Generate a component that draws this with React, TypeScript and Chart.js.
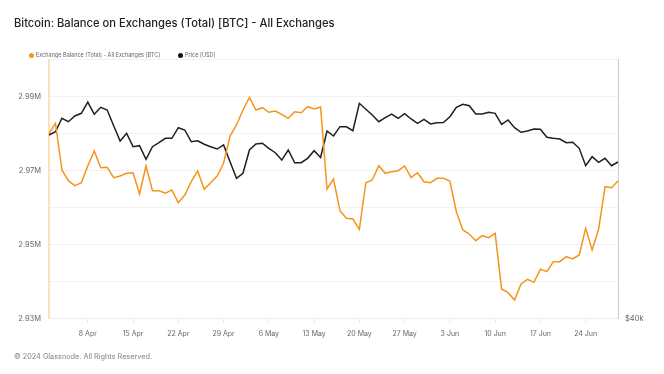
import React, { useEffect, useRef } from "react";
import { Chart, registerables } from "chart.js";

Chart.register(...registerables);

const DATES = [
  "2 Apr","3 Apr","4 Apr","5 Apr","6 Apr","7 Apr","8 Apr","9 Apr","10 Apr","11 Apr","12 Apr","13 Apr","14 Apr","15 Apr","16 Apr","17 Apr","18 Apr","19 Apr","20 Apr","21 Apr","22 Apr","23 Apr","24 Apr","25 Apr","26 Apr","27 Apr","28 Apr","29 Apr","30 Apr",
  "1 May","2 May","3 May","4 May","5 May","6 May","7 May","8 May","9 May","10 May","11 May","12 May","13 May","14 May","15 May","16 May","17 May","18 May","19 May","20 May","21 May","22 May","23 May","24 May","25 May","26 May","27 May","28 May","29 May","30 May","31 May",
  "1 Jun","2 Jun","3 Jun","4 Jun","5 Jun","6 Jun","7 Jun","8 Jun","9 Jun","10 Jun","11 Jun","12 Jun","13 Jun","14 Jun","15 Jun","16 Jun","17 Jun","18 Jun","19 Jun","20 Jun","21 Jun","22 Jun","23 Jun","24 Jun","25 Jun","26 Jun","27 Jun","28 Jun","29 Jun",
];

const X_TICKS = ["8 Apr","15 Apr","22 Apr","29 Apr","6 May","13 May","20 May","27 May","3 Jun","10 Jun","17 Jun","24 Jun"];

const BALANCE = [
  2980050, 2982760, 2970140, 2967240, 2965890, 2966700, 2971300, 2975270, 2970760, 2970870,
  2968050, 2968510, 2969240, 2969400, 2963650, 2971220, 2964540, 2964500, 2963840, 2964730,
  2961300, 2963380, 2966970, 2969870, 2964920, 2966700, 2968510, 2971950, 2979320, 2982300,
  2986350, 2989780, 2986350, 2986970, 2985730, 2986080, 2985190, 2984110, 2985890, 2985620,
  2987240, 2986620, 2987160, 2965000, 2967700, 2959140, 2957080, 2956890, 2954110, 2966700,
  2967430, 2971300, 2969240, 2969680, 2969950, 2971220, 2968050, 2969400, 2966970, 2966700,
  2967890, 2967890, 2967160, 2958870, 2953920, 2952840, 2951030, 2952380, 2951840, 2953030,
  2937970, 2936970, 2935000, 2939320, 2940590, 2939780, 2943300, 2942650, 2945350, 2945350,
  2946700, 2946080, 2947160, 2954380, 2948510, 2954110, 2965620, 2965350, 2967160,
];

const PRICE = [
  65850, 66310, 68200, 67720, 68520, 68900, 70490, 68760, 69750, 69370,
  67160, 65000, 66090, 64200, 64340, 62420, 64200, 64760, 65380, 65380,
  66870, 66550, 64900, 65040, 64540, 64200, 63870, 64440, 62090, 59750,
  60450, 63730, 64580, 64680, 63970, 63350, 62320, 63730, 61940, 61940,
  62560, 63630, 62680, 66410, 65700, 67020, 67000, 66450, 70310, 69470,
  68660, 67720, 68280, 68800, 68200, 68850, 68100, 67490, 68060, 67400,
  67580, 67600, 68420, 69750, 70170, 69970, 68800, 68800, 69040, 68900,
  67350, 67960, 66870, 66230, 66410, 66690, 66650, 65520, 65380, 65280,
  64760, 64820, 63970, 61520, 62790, 62000, 62560, 61520, 62040,
];

const BAL_TICKS = [2930000, 2940000, 2950000, 2960000, 2970000, 2980000, 2990000, 3000000];
const BAL_LABELED = [2930000, 2950000, 2970000, 2990000];
const PRICE_TICKS = [40000];

const FONT = "Inter, 'Noto Sans', sans-serif";

export default function App() {
  const ref = useRef<HTMLCanvasElement | null>(null);

  useEffect(() => {
    if (!ref.current) return;
    const chart = new Chart(ref.current, {
      type: "line",
      data: {
        labels: DATES,
        datasets: [
          {
            label: "Exchange Balance (Total) - All Exchanges [BTC]",
            data: BALANCE,
            borderColor: "#f7931a",
            backgroundColor: "#f7931a",
            borderWidth: 1.5,
            pointRadius: 0,
            tension: 0,
            yAxisID: "y",
          },
          {
            label: "Price [USD]",
            data: PRICE,
            borderColor: "#1f1f1f",
            backgroundColor: "#1f1f1f",
            borderWidth: 1.5,
            pointRadius: 0,
            tension: 0,
            yAxisID: "y1",
          },
        ],
      },
      options: {
        animation: false,
        responsive: false,
        maintainAspectRatio: false,
        layout: { padding: { left: 0, right: 0, top: 59.5, bottom: 0 } },
        plugins: { legend: { display: false }, tooltip: { enabled: false }, title: { display: false } },
        scales: {
          x: {
            type: "category",
            afterBuildTicks: (scale: any) => {
              scale.ticks = scale.ticks.filter((t: any) => X_TICKS.includes(DATES[t.value]));
            },
            afterFit: (scale: any) => {
              scale.height = 55.5;
            },
            grid: { drawOnChartArea: false, drawTicks: true, tickLength: 4, color: "#e8e8e8" },
            border: { color: "#eeeeee", width: 1 },
            ticks: {
              autoSkip: false,
              maxRotation: 0,
              padding: 7,
              color: "#666666",
              font: { family: FONT, size: 7 },
              callback: function (this: any, value: any) {
                return DATES[value];
              },
            },
          },
          y: {
            position: "left",
            min: 2930000,
            max: 3000000,
            afterBuildTicks: (scale: any) => {
              scale.ticks = BAL_TICKS.map((v) => ({ value: v }));
            },
            afterFit: (scale: any) => {
              scale.width = 49;
            },
            grid: { color: "#f1f1f1", drawTicks: false, lineWidth: 1 },
            border: { color: "#fde0bd", width: 2 },
            ticks: {
              padding: 8,
              color: "#666666",
              font: { family: FONT, size: 7.5 },
              callback: (v: any) => (BAL_LABELED.includes(v) ? (v / 1e6).toFixed(2) + "M" : ""),
            },
          },
          y1: {
            position: "right",
            min: 40000,
            max: 76480,
            afterBuildTicks: (scale: any) => {
              scale.ticks = PRICE_TICKS.map((v) => ({ value: v }));
            },
            afterFit: (scale: any) => {
              scale.width = 46;
            },
            grid: { drawOnChartArea: false, drawTicks: false },
            border: { color: "#cccccc", width: 1 },
            ticks: {
              padding: 7,
              color: "#666666",
              font: { family: FONT, size: 7.5 },
              callback: (v: any) => "$" + v / 1000 + "k",
            },
          },
        },
      },
    });
    return () => chart.destroy();
  }, []);

  const legendText: React.CSSProperties = {
    position: "absolute",
    top: 51,
    fontFamily: FONT,
    fontSize: 5.5,
    color: "#666",
    lineHeight: "8px",
    whiteSpace: "nowrap",
  };

  return (
    <div style={{ position: "fixed", left: 0, top: 0, width: 664, height: 374, background: "#fff", overflow: "hidden" }}>
      <canvas ref={ref} width={664} height={374} style={{ position: "absolute", left: 0, top: 0, width: 664, height: 374 }} />
      <div
        style={{
          position: "absolute",
          left: 14,
          top: 14,
          fontFamily: FONT,
          fontSize: 11.2,
          fontWeight: 500,
          lineHeight: "18px",
          color: "#222",
          whiteSpace: "nowrap",
        }}
      >
        Bitcoin: Balance on Exchanges (Total) [BTC] - All Exchanges
      </div>
      <div style={{ position: "absolute", left: 29, top: 53, width: 5, height: 5, borderRadius: 3, background: "#f7931a" }} />
      <div style={{ ...legendText, left: 36 }}>Exchange Balance (Total) - All Exchanges [BTC]</div>
      <div style={{ position: "absolute", left: 178, top: 53, width: 5, height: 5, borderRadius: 3, background: "#111" }} />
      <div style={{ ...legendText, left: 185 }}>Price [USD]</div>
      <div
        style={{
          position: "absolute",
          left: 14,
          top: 351,
          fontFamily: FONT,
          fontSize: 7.3,
          lineHeight: "11px",
          color: "#808080",
          whiteSpace: "nowrap",
        }}
      >
        © 2024 Glassnode. All Rights Reserved.
      </div>
    </div>
  );
}
